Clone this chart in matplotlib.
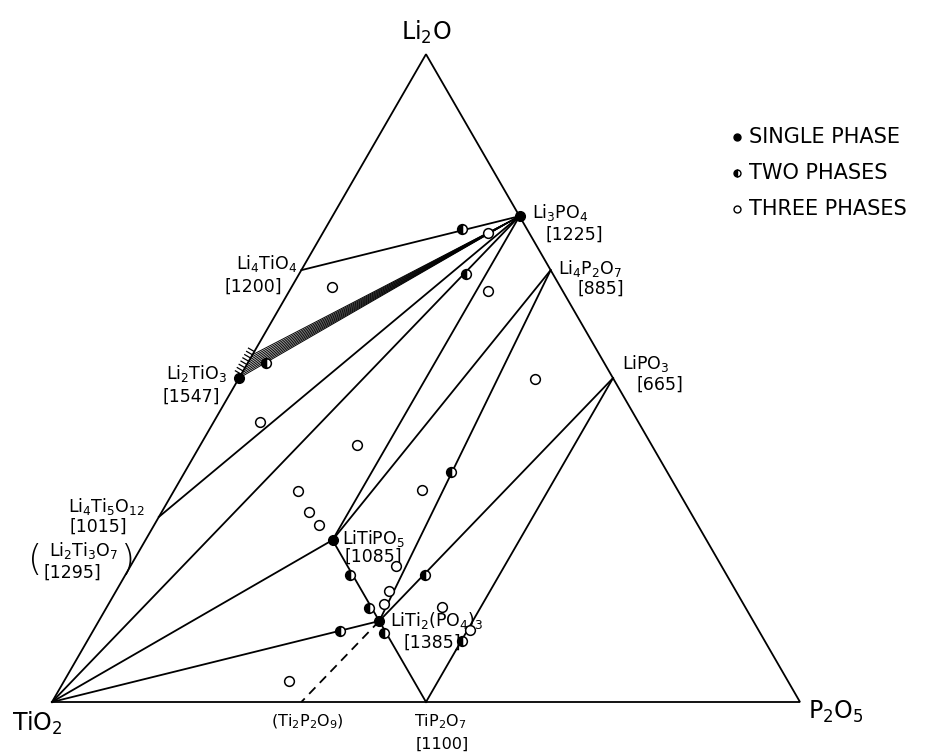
import numpy as np
import matplotlib
matplotlib.use("Agg")
import matplotlib.pyplot as plt

plt.rcParams["font.family"] = ["DejaVu Sans"]
plt.rcParams["mathtext.default"] = "regular"

# ---- compounds: mole numbers of Li2O, TiO2, P2O5 per formula unit ----
compound_names = ["Li2O", "TiO2", "P2O5", "Li3PO4", "Li4P2O7", "LiPO3",
                  "Li4TiO4", "Li2TiO3", "Li4Ti5O12", "Li2Ti3O7",
                  "TiP2O7", "Ti2P2O9", "LiTiPO5", "LiTi2(PO4)3"]
compound_li2o = [1, 0, 0, 1.5, 2, 0.5, 2, 1, 2, 1, 0, 0, 0.5, 0.5]
compound_tio2 = [0, 1, 0, 0, 0, 0, 1, 1, 5, 3, 1, 2, 1, 2]
compound_p2o5 = [0, 0, 1, 0.5, 1, 0.5, 0, 0, 0, 0, 1, 1, 0.5, 1.5]

# melting points [deg C]
melting = {"Li3PO4": "1225", "Li4P2O7": "885", "LiPO3": "665",
           "Li4TiO4": "1200", "Li2TiO3": "1547", "Li4Ti5O12": "1015",
           "Li2Ti3O7": "1295", "LiTiPO5": "1085", "LiTi2(PO4)3": "1385",
           "TiP2O7": "1100"}

# tie lines between coexisting phases
tie_lines = [("Li4TiO4", "Li3PO4"), ("Li4Ti5O12", "Li3PO4"),
             ("TiO2", "Li3PO4"), ("LiTiPO5", "Li3PO4"),
             ("LiTiPO5", "Li4P2O7"), ("LiTi2(PO4)3", "Li4P2O7"),
             ("LiTi2(PO4)3", "LiPO3"), ("TiP2O7", "LiPO3"),
             ("TiO2", "LiTiPO5"), ("TiO2", "LiTi2(PO4)3"),
             ("LiTiPO5", "LiTi2(PO4)3"), ("LiTi2(PO4)3", "TiP2O7")]
dashed_lines = [("LiTi2(PO4)3", "Ti2P2O9")]

# Li2TiO3 solid solution: Li2O mole fraction of the end members tied to Li3PO4
ss_li2o = [0.500, 0.504, 0.508, 0.512, 0.516, 0.520, 0.524, 0.528, 0.532, 0.536]
ss_hatch_li2o = [0.506, 0.511, 0.516, 0.521, 0.526, 0.531, 0.536, 0.541]

# experimental samples: mole fractions (Li2O, TiO2, P2O5)
single_phase = ["Li3PO4", "Li2TiO3", "LiTiPO5", "LiTi2(PO4)3"]
two_li2o = [0.730, 0.660, 0.524, 0.110, 0.196, 0.145, 0.106, 0.355, 0.196, 0.094]
two_tio2 = [0.087, 0.117, 0.452, 0.560, 0.504, 0.504, 0.503, 0.289, 0.403, 0.405]
two_p2o5 = [0.183, 0.223, 0.024, 0.330, 0.300, 0.351, 0.391, 0.356, 0.401, 0.501]
three_li2o = [0.724, 0.641, 0.635, 0.499, 0.432, 0.397, 0.326, 0.293, 0.273,
              0.327, 0.210, 0.171, 0.151, 0.147, 0.111, 0.032]
three_tio2 = [0.055, 0.305, 0.099, 0.105, 0.506, 0.394, 0.508, 0.510, 0.506,
              0.342, 0.435, 0.464, 0.481, 0.405, 0.386, 0.667]
three_p2o5 = [0.221, 0.054, 0.266, 0.396, 0.062, 0.209, 0.166, 0.197, 0.221,
              0.331, 0.355, 0.365, 0.368, 0.448, 0.503, 0.301]

SQ = np.sqrt(3) / 2


def tern(li, ti, p):
    li, ti, p = (np.asarray(v, dtype=float) for v in (li, ti, p))
    s = li + ti + p
    return p / s + 0.5 * li / s, SQ * li / s


pos = {n: tern(a, t, p) for n, a, t, p in
       zip(compound_names, compound_li2o, compound_tio2, compound_p2o5)}

fig = plt.figure(figsize=(9.31, 7.55), dpi=100)
ax = fig.add_axes([0, 0, 1, 1])
S = 748.0
ax.set_xlim(-52 / S, (931 - 52) / S)
ax.set_ylim((702 - 755) / S, 702 / S)
ax.set_aspect("equal")
ax.axis("off")

LW = 1.3
# triangle outline
corners = ["TiO2", "P2O5", "Li2O", "TiO2"]
ax.plot([pos[c][0] for c in corners], [pos[c][1] for c in corners],
        color="black", lw=LW, solid_joinstyle="miter")

for a, b in tie_lines:
    ax.plot([pos[a][0], pos[b][0]], [pos[a][1], pos[b][1]], color="black", lw=LW)
for a, b in dashed_lines:
    ax.plot([pos[a][0], pos[b][0]], [pos[a][1], pos[b][1]], color="black",
            lw=LW, dashes=(5, 3.5))

# solid-solution fan Li2TiO3(ss) - Li3PO4
px, py = pos["Li3PO4"]
for f in ss_li2o:
    ex, ey = tern(f, 1 - f, 0)
    ax.plot([ex, px], [ey, py], color="black", lw=0.7)
nx, ny = -SQ, 0.5
for f in ss_hatch_li2o:
    ex, ey = tern(f, 1 - f, 0)
    ax.plot([ex, ex + 0.009 * nx], [ey, ey + 0.009 * ny], color="black", lw=0.9)

# samples
ms = 7
ax.plot([pos[n][0] for n in single_phase], [pos[n][1] for n in single_phase],
        "o", color="black", ms=ms, zorder=5)
tx, ty = tern(two_li2o, two_tio2, two_p2o5)
ax.plot(tx, ty, "o", ms=ms, fillstyle="left", markerfacecolor="black",
        markerfacecoloralt="white", markeredgecolor="black", mew=1.1, zorder=5)
hx, hy = tern(three_li2o, three_tio2, three_p2o5)
ax.plot(hx, hy, "o", ms=ms, markerfacecolor="white", markeredgecolor="black",
        mew=1.1, zorder=5)

# corner labels
big = 17
ax.annotate("Li$_2$O", pos["Li2O"], xytext=(0, 22), textcoords="offset pixels",
            ha="center", va="center", fontsize=big)
ax.annotate("TiO$_2$", pos["TiO2"], xytext=(-40, -8), textcoords="offset pixels",
            ha="left", va="top", fontsize=big)
ax.annotate("P$_2$O$_5$", pos["P2O5"], xytext=(8, -10), textcoords="offset pixels",
            ha="left", va="center", fontsize=big)

# compound labels: (text, offset of formula, offset of melting point, alignment)
fs = 12.5
labels = [
    ("Li3PO4", "Li$_3$PO$_4$", (13, 4), (26, -19), "left"),
    ("Li4P2O7", "Li$_4$P$_2$O$_7$", (7, 2), (27, -19), "left"),
    ("LiPO3", "LiPO$_3$", (9, 15), (24, -7), "left"),
    ("Li4TiO4", "Li$_4$TiO$_4$", (-4, 7), (-19, -17), "right"),
    ("Li2TiO3", "Li$_2$TiO$_3$", (-12, 5), (-19, -19), "right"),
    ("Li4Ti5O12", "Li$_4$Ti$_5$O$_{12}$", (-14, 10), (-32, -10), "right"),
    ("Li2Ti3O7", "Li$_2$Ti$_3$O$_7$", (-27, -10), (-44, -33), "right"),
    ("LiTiPO5", "LiTiPO$_5$", (10, 2), (12, -17), "left"),
    ("LiTi2(PO4)3", "LiTi$_2$(PO$_4$)$_3$", (11, 1), (24, -22), "left"),
]
for key, txt, off1, off2, ha in labels:
    ax.annotate(txt, pos[key], xytext=off1, textcoords="offset pixels",
                ha=ha, va="center", fontsize=fs)
    ax.annotate("[" + melting[key] + "]", pos[key], xytext=off2,
                textcoords="offset pixels", ha=ha, va="center", fontsize=fs)

# brackets around Li2Ti3O7
ax.annotate("(", pos["Li2Ti3O7"], xytext=(-110, -20), textcoords="offset pixels",
            ha="center", va="center", fontsize=26, fontweight="light")
ax.annotate(")", pos["Li2Ti3O7"], xytext=(-18, -20), textcoords="offset pixels",
            ha="center", va="center", fontsize=26, fontweight="light")

# base labels
bfs = 11.5
ax.annotate("(Ti$_2$P$_2$O$_9$)", pos["Ti2P2O9"], xytext=(6, -20),
            textcoords="offset pixels", ha="center", va="center", fontsize=bfs)
ax.annotate("TiP$_2$O$_7$", pos["TiP2O7"], xytext=(14, -20),
            textcoords="offset pixels", ha="center", va="center", fontsize=bfs)
ax.annotate("[" + melting["TiP2O7"] + "]", pos["TiP2O7"], xytext=(16, -42),
            textcoords="offset pixels", ha="center", va="center", fontsize=bfs)

# key
key_fs = 15
key_x = (737 - 52) / S
key_rows = [(702 - 137) / S, (702 - 173) / S, (702 - 209) / S]
ax.plot(key_x, key_rows[0], "o", color="black", ms=5)
ax.plot(key_x, key_rows[1], "o", ms=5, fillstyle="left", markerfacecolor="black",
        markerfacecoloralt="white", markeredgecolor="black", mew=1)
ax.plot(key_x, key_rows[2], "o", ms=5, markerfacecolor="white",
        markeredgecolor="black", mew=1)
for yk, txt in zip(key_rows, ["SINGLE PHASE", "TWO PHASES", "THREE PHASES"]):
    ax.text(key_x + 12 / S, yk, txt, ha="left", va="center", fontsize=key_fs)

fig.savefig("out.png", dpi=100, facecolor="white")
